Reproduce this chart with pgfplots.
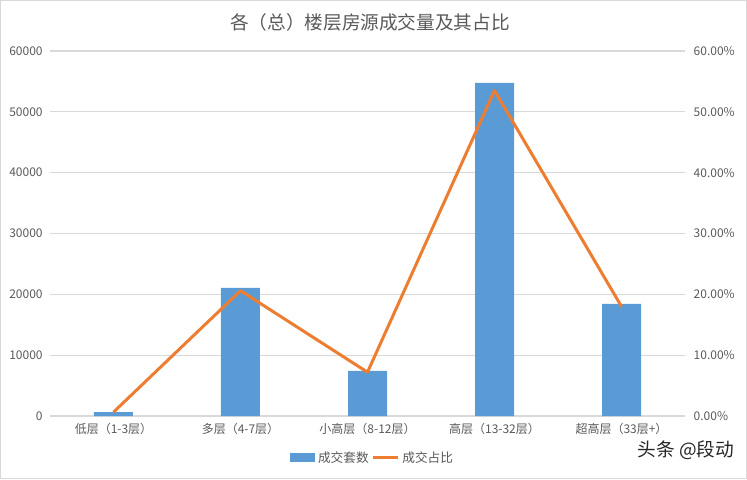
\documentclass[border=0pt]{standalone}
\usepackage{pgfplots}
\pgfplotsset{compat=1.18}
\usepackage{fontspec}
\setmainfont{Noto Sans CJK SC}
\definecolor{barblue}{HTML}{5B9BD5}
\definecolor{lineorange}{HTML}{ED7D31}
\definecolor{gridgray}{HTML}{D9D9D9}
\definecolor{txtgray}{HTML}{595959}
\begin{document}
\begin{tikzpicture}
\useasboundingbox (-37.5pt,-47.25pt) rectangle (522.75pt,312pt);
\draw[gridgray,line width=0.8pt] (-37pt,-46.75pt) rectangle (522.25pt,311.5pt);
\begin{axis}[
  scale only axis, width=476.25pt, height=273.75pt,
  xmin=-0.5, xmax=4.5, ymin=0, ymax=60000,
  xtick={0,1,2,3,4},
  xticklabels={低层（1-3层）,多层（4-7层）,小高层（8-12层）,高层（13-32层）,超高层（33层+）},
  ytick={0,10000,20000,30000,40000,50000,60000},
  yticklabels={0,10000,20000,30000,40000,50000,60000},
  scaled y ticks=false,
  axis y line*=left, axis x line*=bottom,
  axis line style={draw=none},
  major tick length=0pt,
  ymajorgrids, grid style={gridgray,line width=0.8pt},
  tick label style={font=\fontsize{9}{10}\selectfont, text=txtgray},
  xticklabel style={yshift=-2pt},
  yticklabel style={xshift=-2pt},
  legend style={at={(0.5,-0.115)}, anchor=center, draw=none, legend columns=2,
    font=\fontsize{9.5}{10}\selectfont, text=txtgray, xshift=4pt, /tikz/every even column/.append style={column sep=0pt}},
  legend image code/.code={\fill[#1] (0pt,-3pt) rectangle (19pt,4pt);},
]
\addplot[ybar, bar width=29.25pt, fill=barblue, draw=none] coordinates {
(0,650) (1,21050) (2,7400) (3,54750) (4,18420)};
\addlegendentry{成交套数}
\addlegendimage{legend image code/.code={\draw[lineorange,line width=2.25pt] (0pt,0.5pt) -- (19pt,0.5pt);}}
\addlegendentry{成交占比}
\end{axis}
\begin{axis}[
  scale only axis, width=476.25pt, height=273.75pt,
  xmin=-0.5, xmax=4.5, ymin=0, ymax=60,
  axis y line*=right, axis x line=none,
  axis line style={draw=none},
  major tick length=0pt,
  ytick={0,10,20,30,40,50,60},
  yticklabels={0.00\%,10.00\%,20.00\%,30.00\%,40.00\%,50.00\%,60.00\%},
  tick label style={font=\fontsize{9}{10}\selectfont, text=txtgray},
  yticklabel style={xshift=3pt},
]
\addplot[lineorange, line width=2.25pt, line join=round, mark=none] coordinates {
(0,0.64) (1,20.6) (2,7.2) (3,53.5) (4,18.0)};
\end{axis}
\node[text=txtgray, font=\fontsize{14}{16}\selectfont] at (240pt,295.5pt) {各（总）楼层房源成交量及其占比};
\node[text=black!85, font=\fontsize{14}{16}\selectfont] at (477pt,-26pt) {头条 @段动};
\end{tikzpicture}
\end{document}
